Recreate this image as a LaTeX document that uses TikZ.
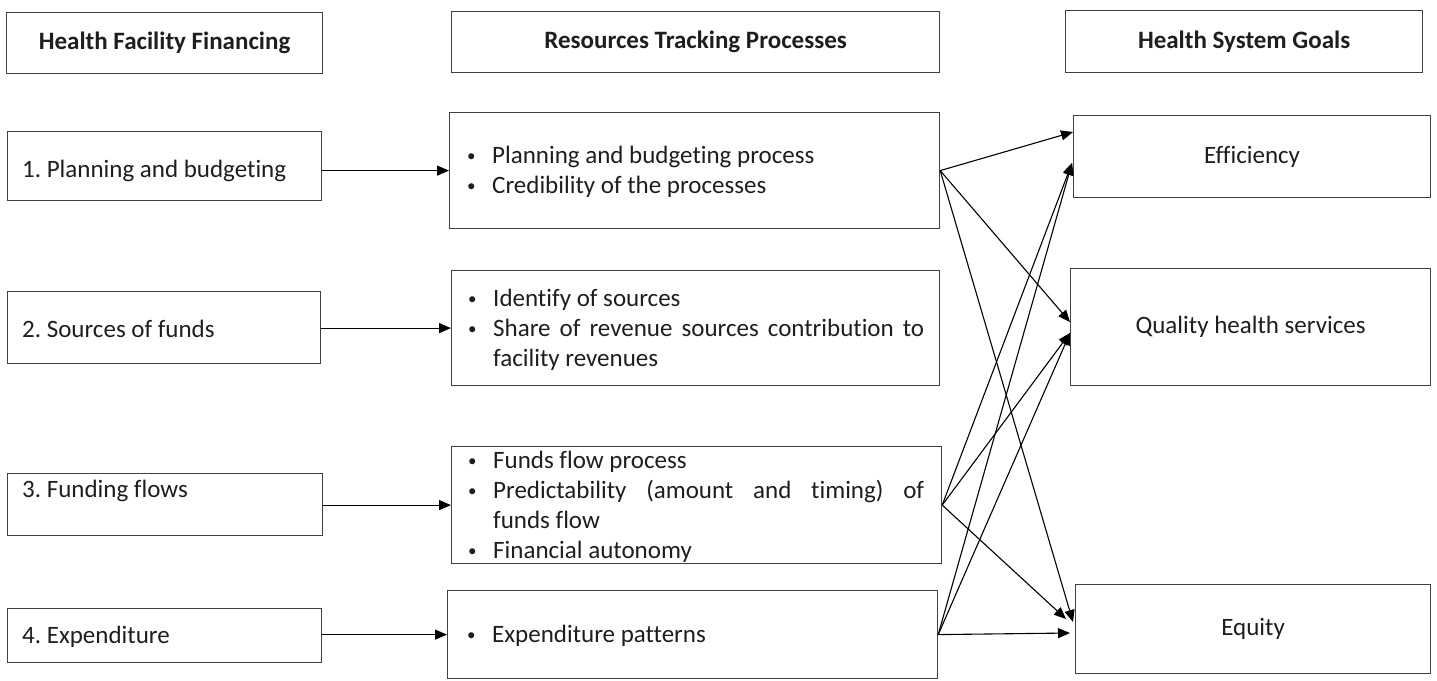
\documentclass[tikz,border=0pt]{standalone}
\usepackage{fontspec}
\setmainfont{Carlito}[Ligatures=NoCommon]
\usetikzlibrary{arrows.meta,calc}
\definecolor{boxc}{RGB}{64,64,64}
\definecolor{txtc}{RGB}{30,30,30}
\frenchspacing
\newcommand\mybul{\hspace*{1pt}{\fontsize{17pt}{17pt}\selectfont\raisebox{1.5pt}{\textbullet}}}
\newcommand\bitem[1]{\par\noindent\hangindent=26pt\hangafter=1\makebox[26pt][l]{\mybul}#1}
\begin{document}
\begin{tikzpicture}[x=1pt,y=-1pt,
  every node/.style={text=txtc, font=\fontsize{25pt}{30pt}\selectfont},
  box/.style={draw=boxc, line width=1.2pt, inner sep=0pt, anchor=north west},
  hdr/.style={box, font=\fontsize{25pt}{30pt}\selectfont\bfseries},
  lbl/.style={inner sep=0pt, anchor=base west},
  blist/.style={inner sep=0pt, anchor=north west, text width=457pt, align=justify},
  arr/.style={-{Triangle[length=12pt,width=10pt]}, line width=1.1pt, draw=black}]
\useasboundingbox (0,0) rectangle (1437,680);

% header boxes
\node[hdr, minimum width=316pt, minimum height=61pt] (h1) at (6,12) {Health Facility Financing};
\node[hdr, minimum width=488pt, minimum height=61pt] (h2) at (451,11) {Resources Tracking Processes};
\node[hdr, minimum width=357pt, minimum height=62pt] (h3) at (1065,10) {Health System Goals};

% left boxes
\node[box, minimum width=314pt, minimum height=69pt] (l1) at (7,131) {};
\node[box, minimum width=313pt, minimum height=72pt] (l2) at (7,291) {};
\node[box, minimum width=315pt, minimum height=62pt] (l3) at (7,473) {};
\node[box, minimum width=314pt, minimum height=54pt] (l4) at (7,608) {};
\node[lbl] (l1t) at (22,177) {1. Planning and budgeting};
\node[lbl] (l2t) at (22,337) {2. Sources of funds};
\node[lbl] (l3t) at (22,497) {3. Funding flows};
\node[lbl] (l4t) at (22,643) {4. Expenditure};

% middle boxes
\node[box, minimum width=490pt, minimum height=116pt] (m1) at (449,112) {};
\node[box, minimum width=488pt, minimum height=115pt] (m2) at (451,270) {};
\node[box, minimum width=490pt, minimum height=117pt] (m3) at (451,446) {};
\node[box, minimum width=490pt, minimum height=88pt] (m4) at (447,590) {};
\node[blist] (m1t) at (466,133) {\bitem{\rule{0pt}{20pt}Planning and budgeting process}\bitem{Credibility of the processes}\par};
\node[blist] (m2t) at (467,276) {\bitem{\rule{0pt}{20pt}Identify of sources}\bitem{Share of revenue sources contribution to\linebreak facility revenues}\par};
\node[blist] (m3t) at (467,438) {\bitem{\rule{0pt}{20pt}Funds flow process}\bitem{Predictability (amount and timing) of\linebreak funds flow}\bitem{Financial autonomy}\par};
\node[blist] (m4t) at (466,612) {\bitem{\rule{0pt}{20pt}Expenditure patterns}\par};

% right boxes
\node[box, minimum width=357pt, minimum height=82pt] (eff) at (1073,115) {Efficiency};
\node[box, minimum width=360pt, minimum height=117pt] (qual) at (1070,268) {Quality health services};
\node[box, minimum width=355pt, minimum height=89pt] (eq) at (1075,584) {\raisebox{-3pt}{Equity}};

% arrow targets
\coordinate (e1) at (eff.west |- 0,132);
\coordinate (e2) at ($(eff.west |- 0,163)+(-1,0)$);
\coordinate (q1) at (qual.west |- 0,322);
\coordinate (q2) at (qual.west |- 0,333);
\coordinate (u1) at ($(eq.west |- 0,622)+(-2,0)$);
\coordinate (u2) at ($(eq.west |- 0,619)+(-9,0)$);
\coordinate (u3) at ($(eq.west |- 0,633)+(-5,0)$);

% left to middle
\draw[arr] (m1.west -| l1.east) -- (m1.west);
\draw[arr] (m2.west -| l2.east) -- (m2.west);
\draw[arr] (m3.west -| l3.east) -- (m3.west);
\draw[arr] (m4.west -| l4.east) -- (m4.west);

% middle to right
\draw[arr] (m1.east) -- (e1);
\draw[arr] (m1.east) -- (q1);
\draw[arr] (m1.east) -- (u1);
\draw[arr] (m3.east) -- (e2);
\draw[arr] (m3.east) -- (q2);
\draw[arr] (m3.east) -- (u2);
\draw[arr] (m4.east) -- (e2);
\draw[arr] (m4.east) -- (q2);
\draw[arr] (m4.east) -- (u3);
\end{tikzpicture}
\end{document}
